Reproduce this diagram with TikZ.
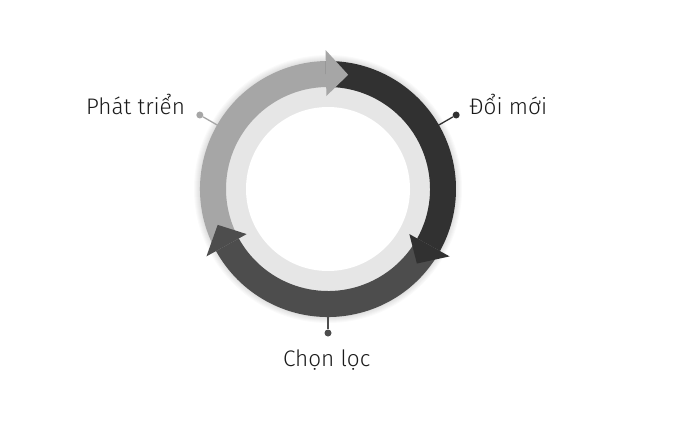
\documentclass[tikz,border=0pt]{standalone}
\usepackage{fontspec}
\setmainfont{Fira Sans Light}
\usetikzlibrary{calc}
\definecolor{lightarrow}{HTML}{A6A6A6}
\definecolor{darkarrow}{HTML}{313131}
\definecolor{midarrow}{HTML}{4D4D4D}
\definecolor{ringgray}{HTML}{E6E6E6}
\definecolor{labeltext}{HTML}{1A1A1A}
\newcommand{\bandseg}[3]{\fill[#1] ($(c)+(#2:128pt)$) arc[start angle=#2, end angle=#3, radius=128pt] -- ($(c)+(#3:102pt)$) arc[start angle=#3, end angle=#2, radius=102pt] -- cycle;}
\newcommand{\arrowhd}[3]{\fill[#1] ($(c)+(#2:93pt)$) -- ($(c)+(#2:139pt)$) -- ($(c)+(#3:116pt)$) -- cycle;}
\begin{document}
\begin{tikzpicture}[x=1pt,y=1pt,
 labeltxt/.style={font=\fontsize{22.5}{27}\selectfont, text=labeltext, inner sep=0pt, anchor=base},
 dotnode/.style={circle, inner sep=0pt, minimum size=7pt},
 leader/.style={line width=1.3pt}]
\useasboundingbox (0,0) rectangle (700,421);
\fill[white] (0,0) rectangle (700,421);
\coordinate (c) at (328,232);
% soft outer shadow
\foreach \i in {1,...,6} \fill[black, opacity=0.018] (c) circle[radius={128pt+\i pt}];
% leaders and dots
\coordinate (rL) at ($(c)+(150:127pt)$);
\coordinate (rR) at ($(c)+(30:127pt)$);
\coordinate (rB) at ($(c)+(270:127pt)$);
\node[dotnode, fill=lightarrow] (dL) at ($(c)+(150:148pt)$) {};
\node[dotnode, fill=darkarrow] (dR) at ($(c)+(30:148pt)$) {};
\node[dotnode, fill=midarrow] (dB) at ($(c)+(270:144pt)$) {};
\draw[leader, lightarrow] (rL) -- (dL);
\draw[leader, darkarrow] (rR) -- (dR);
\draw[leader, midarrow] (rB) -- (dB);
% light inner ring
\fill[ringgray] (c) circle[radius=110pt];
\fill[white] (c) circle[radius=82pt];
% bands
\bandseg{lightarrow}{209}{91}
\bandseg{darkarrow}{91}{-29}
\bandseg{midarrow}{-29}{-151}
% arrow heads
\arrowhd{lightarrow}{91}{80}
\arrowhd{darkarrow}{-29}{-40}
\arrowhd{midarrow}{209}{198}
% labels
\node[labeltxt] (tL) at (135.5,306) {Phát triển};
\node[labeltxt] (tR) at (508.3,306) {Đổi mới};
\node[labeltxt] (tB) at (326.7,54.3) {Chọn lọc};
\end{tikzpicture}
\end{document}
